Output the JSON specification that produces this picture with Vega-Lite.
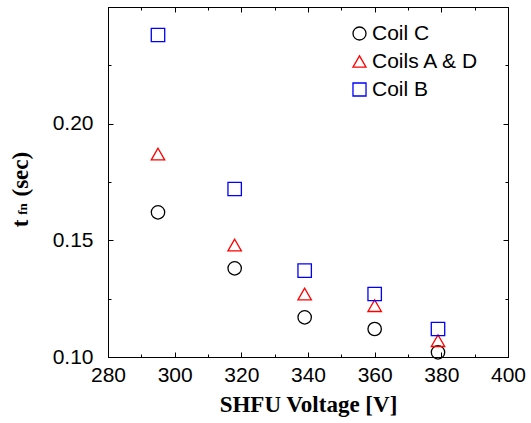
{
  "$schema": "https://vega.github.io/schema/vega-lite/v6.json",
  "width": 400,
  "height": 350,
  "autosize": "none",
  "padding": {"left": 108, "top": 7, "right": 23, "bottom": 66},
  "background": "white",
  "config": {
    "view": {"stroke": "black", "strokeWidth": 1},
    "axis": {"grid": false, "domainColor": "black", "tickColor": "black", "labelColor": "black", "titleColor": "black"}
  },
  "title": {
    "text": "fn",
    "orient": "left",
    "anchor": "middle",
    "font": "Liberation Serif",
    "fontWeight": "bold",
    "fontSize": 13,
    "color": "black",
    "offset": -21,
    "dx": -27,
    "dy": 0
  },
  "data": {
    "values": [
      {"voltage": 295, "t": 0.162, "series": "Coil C"},
      {"voltage": 318, "t": 0.138, "series": "Coil C"},
      {"voltage": 339, "t": 0.117, "series": "Coil C"},
      {"voltage": 360, "t": 0.112, "series": "Coil C"},
      {"voltage": 379, "t": 0.102, "series": "Coil C"},
      {"voltage": 295, "t": 0.187, "series": "Coils A & D"},
      {"voltage": 318, "t": 0.148, "series": "Coils A & D"},
      {"voltage": 339, "t": 0.127, "series": "Coils A & D"},
      {"voltage": 360, "t": 0.122, "series": "Coils A & D"},
      {"voltage": 379, "t": 0.107, "series": "Coils A & D"},
      {"voltage": 295, "t": 0.238, "series": "Coil B"},
      {"voltage": 318, "t": 0.172, "series": "Coil B"},
      {"voltage": 339, "t": 0.137, "series": "Coil B"},
      {"voltage": 360, "t": 0.127, "series": "Coil B"},
      {"voltage": 379, "t": 0.112, "series": "Coil B"}
    ]
  },
  "layer": [
    {
      "mark": {"type": "point", "filled": false, "strokeWidth": 1.3, "size": 180, "opacity": 1},
      "encoding": {
        "x": {
          "field": "voltage", "type": "quantitative",
          "scale": {"domain": [280, 400], "nice": false, "zero": false},
          "axis": {
            "orient": "bottom",
            "values": [280, 290, 300, 310, 320, 330, 340, 350, 360, 370, 380, 390, 400],
            "labelExpr": "datum.value % 20 === 0 ? datum.label : ''",
            "tickSize": {"condition": {"test": "datum.value % 20 !== 0", "value": -3}, "value": -5},
            "labelPadding": 12,
            "labelOverlap": false,
            "labelFlush": false,
            "labelFont": "Liberation Sans",
            "labelFontSize": 21,
            "title": "SHFU Voltage [V]",
            "titleFont": "Liberation Serif",
            "titleFontWeight": "bold",
            "titleFontSize": 23,
            "titlePadding": 6
          }
        },
        "y": {
          "field": "t", "type": "quantitative",
          "scale": {"domain": [0.1, 0.25], "nice": false, "zero": false},
          "axis": {
            "orient": "left",
            "values": [0.1, 0.125, 0.15, 0.175, 0.2, 0.225, 0.25],
            "labelExpr": "abs(datum.value * 20 - round(datum.value * 20)) < 0.1 && datum.value < 0.24 ? format(datum.value, '.2f') : ''",
            "tickSize": {"condition": {"test": "abs(datum.value * 20 - round(datum.value * 20)) > 0.1", "value": -3}, "value": -5},
            "labelPadding": 20,
            "labelOverlap": false,
            "labelFlush": false,
            "labelFont": "Liberation Sans",
            "labelFontSize": 21,
            "title": "t\u00a0\u00a0\u00a0\u00a0(sec)",
            "titleFont": "Liberation Serif",
            "titleFontWeight": "bold",
            "titleFontSize": 23,
            "titlePadding": 20,
            "titleY": 182
          }
        },
        "color": {
          "field": "series", "type": "nominal",
          "scale": {"domain": ["Coil C", "Coils A & D", "Coil B"], "range": ["black", "red", "blue"]},
          "legend": {
            "orient": "none", "legendX": 241, "legendY": 16, "title": null, "padding": 0,
            "labelFont": "Liberation Sans", "labelFontSize": 21, "labelColor": "black",
            "symbolSize": 170, "symbolStrokeWidth": 1.3, "rowPadding": 6, "labelOffset": 2
          }
        },
        "shape": {
          "field": "series", "type": "nominal",
          "scale": {"domain": ["Coil C", "Coils A & D", "Coil B"], "range": ["circle", "triangle-up", "square"]}
        }
      }
    },
    {
      "mark": {"type": "point", "opacity": 0},
      "encoding": {
        "x": {
          "field": "voltage", "type": "quantitative",
          "scale": {"domain": [280, 400], "nice": false, "zero": false},
          "axis": {
            "orient": "top",
            "values": [280, 290, 300, 310, 320, 330, 340, 350, 360, 370, 380, 390, 400],
            "labels": false,
            "tickSize": {"condition": {"test": "datum.value % 20 !== 0", "value": -3}, "value": -5},
            "title": null
          }
        },
        "y": {
          "field": "t", "type": "quantitative",
          "scale": {"domain": [0.1, 0.25], "nice": false, "zero": false},
          "axis": {
            "orient": "right",
            "values": [0.1, 0.125, 0.15, 0.175, 0.2, 0.225, 0.25],
            "labels": false,
            "tickSize": {"condition": {"test": "abs(datum.value * 20 - round(datum.value * 20)) > 0.1", "value": -3}, "value": -5},
            "title": null
          }
        }
      }
    }
  ],
  "resolve": {"axis": {"x": "independent", "y": "independent"}}
}
